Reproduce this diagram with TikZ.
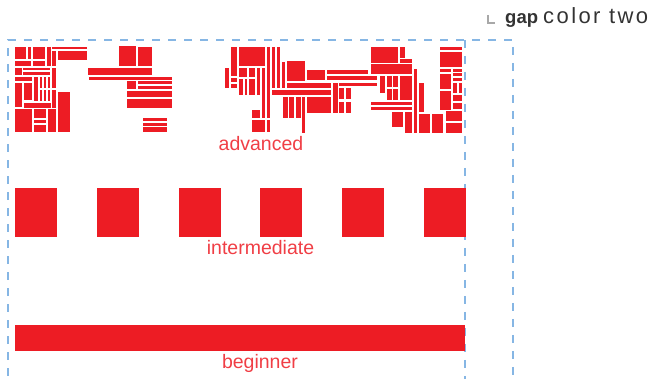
\documentclass[tikz,border=0pt]{standalone}
\usepackage{fontspec}
\setmainfont{Liberation Sans}
\definecolor{tred}{HTML}{ED1C24}
\definecolor{dblue}{HTML}{86B6E4}
\definecolor{lgray}{HTML}{A8A8A8}
\definecolor{dgray}{HTML}{333333}
\begin{document}
\begin{tikzpicture}[x=1pt,y=-1pt,
  box/.style={fill=tred},
  guide/.style={draw=dblue,line width=2.4pt,dash pattern=on 8pt off 8pt},
  lbl/.style={text=tred!85!white,font=\fontsize{19.5}{22}\selectfont,inner sep=0pt,anchor=base}]
\useasboundingbox (0,0) rectangle (657,379);
\clip (0,0) rectangle (657,379);
% guides
\coordinate (gl) at (8,40);
\coordinate (gm) at (465,40);
\coordinate (gr) at (513,40);
\draw[guide] (8,392) -- (gl) -- (gr) -- (513,392);
\draw[guide] (gm) -- (465,392);
% advanced treemap
\foreach \a/\b/\c/\d in {
 15/46.7/26/59, 28/46.7/31/59, 33/46.7/45/59, 47/46.7/51/66, 52/46.7/87/49,
 52/50.7/56/66, 58/50.7/87/60, 15/61/31/66, 33/61/45/66, 15/68/22/75,
 23/68/50/70, 23/72/50/75, 52/68/56/88, 15/77/32/81, 34/77/38/101,
 40/77/42/88, 44/77/46/88, 48/77/50/88, 40/90/42/101, 44/90/46/101,
 48/90/50/101, 15/83/22/107, 24/83/32/100, 24/103/51/108, 52/90/56/108,
 58/92/70/132, 15/109/32/132, 34/109/46/118, 34/120/46/123, 34/125/46/132,
 48/109/56/132,
 119/46/136/66, 138/47/152/66, 88/68/152/75, 89/77/172/80, 127/81/136/89,
 138/81/172/84, 138/86/172/89, 127/91/172/97, 127/99/172/108,
 143/118/167/121, 143/123/167/126, 143/127/167/132,
 225/68/229/88, 231/47/237/76, 231/78/237/82, 231/84/237/88, 239/47/265/66,
 239/68/247/77, 249/68/255/77, 239/79/243/95, 245/79/247/95, 249/79/255/95,
 257/68/260/95, 262/68/265/118, 252/110/260/118, 252/120/265/132,
 267/47/270/118, 267/120/270/132, 272/47/275/88, 277/47/280/88,
 282/62/285/88, 287/61/305/81, 307/70/325/80, 327/70/368/74, 327/76/377/80,
 287/83/331/88, 272/90/331/95, 333/83/338/113, 339/83/377/86,
 339/88/344/99, 346/88/351/99, 339/102/344/113, 346/102/351/113,
 283/97/288/118, 289/97/294/118, 296/97/301/118, 302/97/305/133,
 307/97/331/113,
 371/47/398/63, 400/47/405/58, 400/59/412/63, 371/64/412/74,
 380/76/385/93, 387/76/392/87, 393/76/398/87, 387/89/392/100,
 393/89/398/100, 400/76/412/100, 371/102/412/105, 371/107/412/110,
 392/112/403/127, 405/112/412/133, 414/69/417/133, 419/83/424/112,
 419/114/430/133, 432/114/443/133, 440/47/462/50, 440/52/462/67,
 440/69/451/72, 453/69/462/72, 453/73/462/76, 453/78/462/81,
 440/74/451/89, 453/83/457/93, 458.5/83/462/93, 440/91/451/110,
 453/95/462/101, 453/103/462/109, 446/111/462/121, 446/123/462/133}
 \fill[box] (\a,\b) rectangle (\c,\d);
% intermediate
\foreach \i in {0,...,5}
 \fill[box] ({15+\i*81.8},188) rectangle ({57+\i*81.8},236.7);
% beginner
\fill[box] (15,325) rectangle (465,350.7);
% labels
\node[lbl] (adv) at (261,151) {advanced};
\node[lbl] (int) at (260.5,255) {intermediate};
\node[lbl] (beg) at (260,369) {beginner};
% legend
\draw[lgray,line width=2.3pt] (487.85,15) -- (487.85,22.85) -- (495,22.85);
\node[inner sep=0pt,anchor=base west,text=dgray,font=\fontsize{18.5}{22}\selectfont\bfseries] (gap) at (505,24) {gap};
\node[inner sep=0pt,anchor=base west,text=dgray,font=\fontsize{22}{25}\selectfont\addfontfeature{LetterSpace=11}] (ctwo) at (543,24) {color two};
\end{tikzpicture}
\end{document}
